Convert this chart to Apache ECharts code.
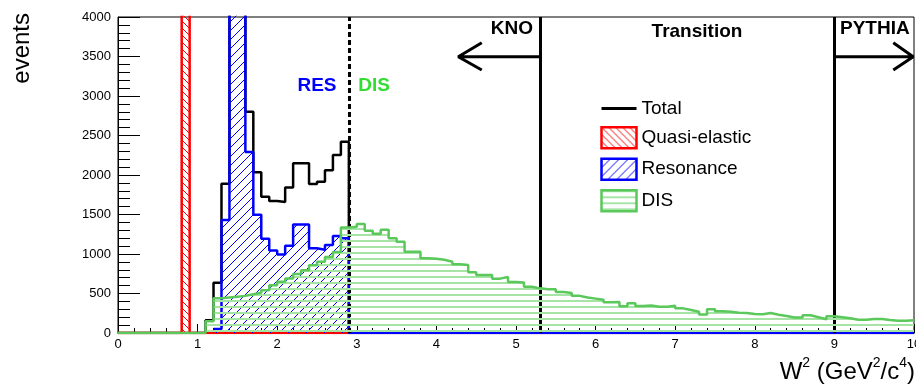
<!DOCTYPE html>
<html><head><meta charset="utf-8">
<script src="https://cdn.jsdelivr.net/npm/echarts@6/dist/echarts.min.js"></script>
<style>html,body{margin:0;padding:0;background:#fff}#c{width:916px;height:388px}</style>
</head><body><div id="c"></div>
<script>
// ---------- data (histograms, bin width 0.1 GeV^2/c^4) ----------
const binWidth = 0.1;
const xMin = 0, xMax = 10, xInterval = 1;
const yMin = 0, yMax = 4000, yInterval = 500;

// DIS: bins from W2 = 0.0 to 10.0
const disStart = 0.0;
const disCounts = [
  0,0,0,0,0,0,0,0,0,0,
  0,150,440,450,460,470,490,510,540,605,
  648,690,748,795,858,902,963,1025,1335,1346,
  1380,1295,1255,1308,1200,1156,1030,1030,945,940,
  928,903,870,861,770,734,734,688,709,645,
  640,585,565,553,553,520,505,470,450,435,
  420,390,392,338,378,342,348,333,333,344,
  312,291,270,234,300,274,270,255,252,240,
  238,253,232,215,196,196,224,200,175,211,
  200,186,169,169,177,178,165,156,154,160
];

// Resonance: bins from W2 = 1.2 to 10.0
const resStart = 1.2;
const resCounts = [
  50,1430,5200,5200,2290,1498,1192,1045,995,1105,
  1373,1375,1072,1055,1114,1228,1200,0,0,0,
  0,0,0,0,0,0,0,0,0,0,0,0,0,0,0,0,0,0,0,0,
  0,0,0,0,0,0,0,0,0,0,0,0,0,0,0,0,0,0,0,0,
  0,0,0,0,0,0,0,0,0,0,0,0,0,0,0,0,0,0,0,0,0,0,0,0,0,0,0,0
];

// Quasi-elastic: bins from W2 = 0.0 to 10.0
const qeStart = 0.0;
const qeCounts = [
  0,0,0,0,0,0,0,0,9000,0,
  0,0,0,0,0,0,0,0,0,0,0,0,0,0,0,0,0,0,0,0,
  0,0,0,0,0,0,0,0,0,0,0,0,0,0,0,0,0,0,0,0,
  0,0,0,0,0,0,0,0,0,0,0,0,0,0,0,0,0,0,0,0,
  0,0,0,0,0,0,0,0,0,0,0,0,0,0,0,0,0,0,0,0,
  0,0,0,0,0,0,0,0,0,0
];

// Total: drawn from W2 = 0.0 up to the RES/DIS cut (above it Total = DIS)
const totalStart = 0.0;
const totalCounts = [
  0,0,0,0,0,0,0,0,0,0,
  0,160,637,1890,6000,6000,2801,2035,1726,1672,
  1658,1842,2148,2148,1885,1915,2060,2253,2422
];

// region boundaries (W2) and arrow geometry (data units)
const resDisCut = 2.9;
const knoEnd = 5.3;
const pythiaStart = 9.0;
const arrowY = 3497, arrowHeadTop = 3675, arrowHeadBottom = 3329;
const knoArrowTip = 4.275, knoArrowHead = 4.57;
const pyArrowTip = 9.99, pyArrowHead = 9.74;

// ---------- helpers ----------
function steps(start, counts, endValue) {
  const pts = counts.map((c, i) => [+(start + i * binWidth).toFixed(3), c]);
  const end = +(start + counts.length * binWidth).toFixed(3);
  pts.push([end, endValue === undefined ? counts[counts.length - 1] : endValue]);
  return pts;
}
function hatch(kind, color, period, lw) {
  const c = document.createElement('canvas');
  c.width = period; c.height = period;
  const g = c.getContext('2d');
  g.strokeStyle = color; g.fillStyle = color; g.lineWidth = lw;
  if (kind === 'h') {
    g.fillRect(0, 0, period, lw);
  } else {
    g.beginPath();
    for (let o = -period; o <= period; o += period) {
      if (kind === '/') { g.moveTo(o, period); g.lineTo(o + period, 0); }
      else { g.moveTo(o, 0); g.lineTo(o + period, period); }
    }
    g.stroke();
  }
  return { image: c, repeat: 'repeat' };
}

const FONT = '"Liberation Sans", Arial, Helvetica, sans-serif';
const C_RES = '#0000ff', C_QE = '#ff0000', C_DIS = '#5ac85a', C_DIS_FILL = '#a6e4a6';
const qePat = hatch('\\', C_QE, 7, 1);
const resPat = hatch('/', C_RES, 9, 1);
const disPat = hatch('h', C_DIS_FILL, 6, 2);

const chart = echarts.init(document.getElementById('c'), null, { renderer: 'canvas' });

const histBase = { type: 'line', step: 'end', symbol: 'none', showSymbol: false, silent: true, animation: false };

chart.setOption({
  animation: false,
  grid: { left: 118, right: 2, top: 17, bottom: 55, outerBoundsMode: 'none', containLabel: false,
          show: true, borderColor: '#000', borderWidth: 1, backgroundColor: 'transparent' },
  xAxis: {
    type: 'value', min: xMin, max: xMax, interval: xInterval,
    axisLine: { lineStyle: { color: '#000', width: 1 } },
    axisTick: { inside: true, length: 9, lineStyle: { color: '#000' } },
    minorTick: { show: true, splitNumber: 5, length: 5, lineStyle: { color: '#000' } },
    splitLine: { show: false },
    axisLabel: { color: '#000', fontSize: 13, fontFamily: FONT, margin: 5, formatter: v => String(v) },
    name: '{m|W}{s|2}{m| (GeV}{s|2}{m|/c}{s|4}{m|)}',
    nameLocation: 'end', nameGap: 1,
    nameTextStyle: {
      align: 'right', verticalAlign: 'top', padding: [23, 0, 0, 0],
      rich: {
        m: { fontSize: 24, fontFamily: FONT, color: '#000', lineHeight: 28, verticalAlign: 'bottom' },
        s: { fontSize: 14, fontFamily: FONT, color: '#000', verticalAlign: 'top' }
      }
    }
  },
  yAxis: {
    type: 'value', min: yMin, max: yMax, interval: yInterval,
    axisLine: { show: true, lineStyle: { color: '#000', width: 1 } },
    axisTick: { show: true, inside: true, length: 22, lineStyle: { color: '#000' } },
    minorTick: { show: true, splitNumber: 5, length: 12, lineStyle: { color: '#000' } },
    splitLine: { show: false },
    axisLabel: { color: '#000', fontSize: 13, fontFamily: FONT, margin: 7, formatter: v => String(v) }
  },
  legend: {
    orient: 'vertical', left: 600, top: 99, padding: 0, itemWidth: 35, itemHeight: 21, itemGap: 8,
    selectedMode: false,
    textStyle: { fontSize: 19, fontFamily: FONT, color: '#000' },
    data: [
      { name: 'Total', itemStyle: { opacity: 0 }, lineStyle: { color: '#000', width: 3 } },
      { name: 'Quasi-elastic', icon: 'rect', itemStyle: { color: qePat, borderColor: C_QE, borderWidth: 2.5 } },
      { name: 'Resonance', icon: 'rect', itemStyle: { color: resPat, borderColor: C_RES, borderWidth: 2.5 } },
      { name: 'DIS', icon: 'rect', itemStyle: { color: disPat, borderColor: C_DIS, borderWidth: 2.5 } }
    ]
  },
  graphic: [
    { type: 'text', x: 22, y: 13, rotation: Math.PI / 2, style: { text: 'events', font: '24px ' + FONT, fill: '#000', align: 'right', verticalAlign: 'middle' } },
    { type: 'text', x: 533, y: 29, style: { text: 'KNO', font: 'bold 19px ' + FONT, fill: '#000', align: 'right', verticalAlign: 'middle' } },
    { type: 'text', x: 697, y: 32, style: { text: 'Transition', font: 'bold 19px ' + FONT, fill: '#000', align: 'center', verticalAlign: 'middle' } },
    { type: 'text', x: 840, y: 29, style: { text: 'PYTHIA', font: 'bold 19px ' + FONT, fill: '#000', align: 'left', verticalAlign: 'middle' } },
    { type: 'text', x: 317, y: 86, style: { text: 'RES', font: 'bold 19px ' + FONT, fill: C_RES, align: 'center', verticalAlign: 'middle' } },
    { type: 'text', x: 374, y: 86, style: { text: 'DIS', font: 'bold 19px ' + FONT, fill: '#33dd33', align: 'center', verticalAlign: 'middle' } }
  ],
  series: [
    Object.assign({}, histBase, { name: 'Total', z: 2, data: steps(totalStart, totalCounts, 0),
      lineStyle: { color: '#000', width: 2.5 }, itemStyle: { color: '#000' } }),
    Object.assign({}, histBase, { name: 'Quasi-elastic', z: 3, data: steps(qeStart, qeCounts),
      lineStyle: { color: C_QE, width: 2.5 }, itemStyle: { color: C_QE }, areaStyle: { color: qePat, opacity: 1 } }),
    Object.assign({}, histBase, { name: 'Resonance', z: 4, data: steps(resStart, resCounts),
      lineStyle: { color: C_RES, width: 2.5 }, itemStyle: { color: C_RES }, areaStyle: { color: resPat, opacity: 1 } }),
    Object.assign({}, histBase, { name: 'DIS', z: 5, data: steps(disStart, disCounts),
      lineStyle: { color: C_DIS, width: 2.5 }, itemStyle: { color: C_DIS }, areaStyle: { color: disPat, opacity: 1 } }),
    { type: 'line', name: 'knoArrow', z: 10, symbol: 'none', silent: true, animation: false,
      lineStyle: { color: '#000', width: 3 },
      data: [[knoArrowHead, arrowHeadTop], [knoArrowTip, arrowY], [knoArrowHead, arrowHeadBottom], [knoArrowTip, arrowY], [knoEnd, arrowY]],
      markLine: {
        silent: true, symbol: 'none', label: { show: false }, animation: false,
        lineStyle: { color: '#000', width: 3, type: 'solid' },
        data: [
          { xAxis: knoEnd },
          { xAxis: pythiaStart },
          { xAxis: resDisCut, lineStyle: { color: '#000', width: 3, type: [5, 3] } }
        ]
      } },
    { type: 'line', name: 'pythiaArrow', z: 10, symbol: 'none', silent: true, animation: false,
      lineStyle: { color: '#000', width: 3 },
      data: [[pyArrowHead, arrowHeadTop], [pyArrowTip, arrowY], [pyArrowHead, arrowHeadBottom], [pyArrowTip, arrowY], [pythiaStart, arrowY]] }
  ]
});
</script></body></html>
